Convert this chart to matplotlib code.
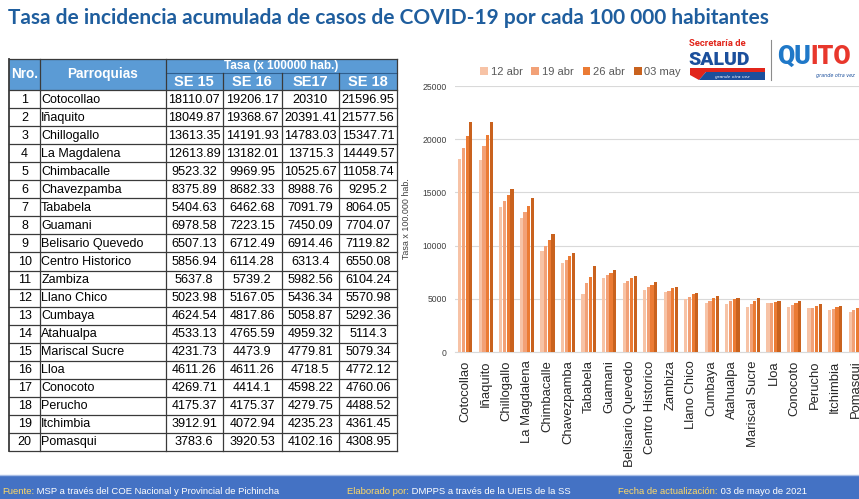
import matplotlib.pyplot as plt
import numpy as np
from matplotlib.patches import Rectangle, Polygon

# datos de la tabla / grafico
parroquias = ['Cotocollao', 'Iñaquito', 'Chillogallo', 'La Magdalena', 'Chimbacalle',
              'Chavezpamba', 'Tababela', 'Guamani', 'Belisario Quevedo', 'Centro Historico',
              'Zambiza', 'Llano Chico', 'Cumbaya', 'Atahualpa', 'Mariscal Sucre',
              'Lloa', 'Conocoto', 'Perucho', 'Itchimbia', 'Pomasqui']
se15 = [18110.07, 18049.87, 13613.35, 12613.89, 9523.32, 8375.89, 5404.63, 6978.58, 6507.13, 5856.94,
        5637.8, 5023.98, 4624.54, 4533.13, 4231.73, 4611.26, 4269.71, 4175.37, 3912.91, 3783.6]
se16 = [19206.17, 19368.67, 14191.93, 13182.01, 9969.95, 8682.33, 6462.68, 7223.15, 6712.49, 6114.28,
        5739.2, 5167.05, 4817.86, 4765.59, 4473.9, 4611.26, 4414.1, 4175.37, 4072.94, 3920.53]
se17 = [20310, 20391.41, 14783.03, 13715.3, 10525.67, 8988.76, 7091.79, 7450.09, 6914.46, 6313.4,
        5982.56, 5436.34, 5058.87, 4959.32, 4779.81, 4718.5, 4598.22, 4279.75, 4235.23, 4102.16]
se18 = [21596.95, 21577.56, 15347.71, 14449.57, 11058.74, 9295.2, 8064.05, 7704.07, 7119.82, 6550.08,
        6104.24, 5570.98, 5292.36, 5114.3, 5079.34, 4772.12, 4760.06, 4488.52, 4361.45, 4308.95]
semanas = ['SE 15', 'SE 16', 'SE17', 'SE 18']
fechas = ['12 abr', '19 abr', '26 abr', '03 may']
colores = ['#F7C3A6', '#F2A177', '#EB7B34', '#C9621E']

W, H = 859, 499
fig = plt.figure(figsize=(W / 100, H / 100), dpi=100)

# capa de fondo en pixeles
bg = fig.add_axes([0, 0, 1, 1])
bg.set_xlim(0, W)
bg.set_ylim(H, 0)
bg.axis('off')

bg.text(8, 18, 'Tasa de incidencia acumulada de casos de COVID-19 por cada 100 000 habitantes',
        fontsize=15, fontweight='bold', color='#1F5E9E', family=['Lato', 'DejaVu Sans'],
        va='center', ha='left')

# ---- tabla ----
cols = [9.3, 40, 165.7, 222.7, 281.7, 339, 397.3]
y_top, y_mid, y_head = 58.5, 72.5, 90
row_h = 18.05
n = len(parroquias)
y_end = y_head + n * row_h
line_c = '#3a3a3a'
head_c = '#5B9BD5'
tf = ['Liberation Sans', 'DejaVu Sans']

bg.add_patch(Rectangle((cols[0], y_top), cols[-1] - cols[0], y_head - y_top,
                       facecolor=head_c, edgecolor='none'))
bg.text((cols[0] + cols[1]) / 2, (y_top + y_head) / 2, 'Nro.', color='white', fontweight='bold',
        fontsize=9.8, ha='center', va='center', family=tf)
bg.text((cols[1] + cols[2]) / 2, (y_top + y_head) / 2, 'Parroquias', color='white', fontweight='bold',
        fontsize=9.8, ha='center', va='center', family=tf)
bg.text((cols[2] + cols[-1]) / 2, (y_top + y_mid) / 2 + 0.5, 'Tasa (x 100000 hab.)', color='white',
        fontweight='bold', fontsize=8.5, ha='center', va='center', family=tf)
for j, s in enumerate(semanas):
    bg.text((cols[2 + j] + cols[3 + j]) / 2, (y_mid + y_head) / 2 + 0.5, s, color='white',
            fontweight='bold', fontsize=10.5, ha='center', va='center', family=tf)

# lineas de la tabla
bg.plot([cols[2], cols[-1]], [y_mid, y_mid], color='#2f5f8f', lw=0.8)
bg.plot([cols[0], cols[-1]], [y_top, y_top], color=line_c, lw=0.9)
for x in cols:
    y0 = y_mid if x in cols[3:-1] else y_top
    bg.plot([x, x], [y0, y_end], color=line_c, lw=0.9 if x != cols[0] else 1.3)
for i in range(n + 1):
    y = y_head + i * row_h
    bg.plot([cols[0], cols[-1]], [y, y], color=line_c, lw=0.9)


def fmt(v):
    return f'{v:.2f}'.rstrip('0').rstrip('.')


for i in range(n):
    yc = y_head + (i + 0.5) * row_h + 0.5
    bg.text((cols[0] + cols[1]) / 2, yc, str(i + 1), fontsize=9, ha='center', va='center', family=tf)
    bg.text(cols[1] + 1.2, yc, parroquias[i], fontsize=9, ha='left', va='center', family=tf)
    for j, serie in enumerate([se15, se16, se17, se18]):
        bg.text((cols[2 + j] + cols[3 + j]) / 2, yc, fmt(serie[i]), fontsize=9.1,
                ha='center', va='center', family=tf)

# ---- pie ----
bg.add_patch(Rectangle((0, 475), W, 24, facecolor='#4472C4', edgecolor='none'))
bg.plot([0, W], [474.5, 474.5], color='#A9BEE6', lw=1)
ff = ['Liberation Sans Narrow', 'Liberation Sans', 'DejaVu Sans']
pie = [(2, 'Fuente:', ' MSP a través del COE Nacional y Provincial de Pichincha'),
       (347, 'Elaborado por:', ' DMPPS a través de la UIEIS de la SS'),
       (618, 'Fecha de actualización:', ' 03 de mayo de 2021')]
for x, lab, txt in pie:
    t = bg.text(x, 491, lab, color='#FFD966', fontsize=6.8, va='center', ha='left', family=ff)
    bg.annotate(txt, xy=(1, 0.5), xycoords=t, color='white', fontsize=6.8, va='center',
                ha='left', family=ff)

# ---- logos ----
lf = ['Roboto', 'DejaVu Sans']
bg.text(689, 43.5, 'Secretaría de', color='#E1251B', fontsize=6.8, fontweight='bold',
        ha='left', va='center', family=lf)
bg.text(688, 60, 'SALUD', color='#1B4F9C', fontsize=14, fontweight='heavy',
        ha='left', va='center', family=lf)
bg.add_patch(Polygon([[690, 68], [765, 68], [765, 72], [706, 72], [699, 80], [690, 75]],
                     closed=True, facecolor='#E1251B', edgecolor='none'))
bg.add_patch(Polygon([[706, 72], [765, 72], [765, 80], [699, 80]], closed=True,
                     facecolor='#1B4F9C', edgecolor='none'))
bg.text(732, 76.5, 'grande otra vez', color='white', fontsize=3.2, style='italic',
        ha='center', va='center')
bg.plot([771, 771], [40, 80], color='#8c8c8c', lw=0.8)
t = bg.text(777, 57, 'QU', color='#1F78C8', fontsize=18, fontweight='heavy', ha='left',
            va='center', family=lf)
bg.annotate('ITO', xy=(1, 0.5), xycoords=t, color='#E8372C', fontsize=18, fontweight='heavy',
            ha='left', va='center', family=lf)
bg.text(835, 75, 'grande otra vez', color='#1B4F9C', fontsize=3.5, style='italic',
        ha='center', va='center')

# ---- grafico de barras ----
ax = fig.add_axes([455 / W, (H - 352) / H, 411 / W, 266 / H])
x = np.arange(n)
offs = [-0.27, -0.09, 0.09, 0.27]
for k, serie in enumerate([se15, se16, se17, se18]):
    ax.bar(x + offs[k], serie, width=0.155, color=colores[k], label=fechas[k], zorder=3)
ax.set_xlim(-0.5, n - 0.5)
ax.set_ylim(0, 25000)
ax.set_yticks(np.arange(0, 25001, 5000))
ax.yaxis.grid(True, color='#D9D9D9', lw=0.8, zorder=0)
for s in ['top', 'right', 'left']:
    ax.spines[s].set_visible(False)
ax.spines['bottom'].set_color('#D9D9D9')
ax.tick_params(axis='y', length=0, labelsize=6.2, labelcolor='#404040', pad=6)
ax.tick_params(axis='x', length=0, pad=6)
ax.set_xticks(x)
ax.set_xticklabels(parroquias, rotation=90, fontsize=9.4, family=tf, color='#262626')
for lab in ax.get_yticklabels():
    lab.set_family(tf)
ax.set_ylabel('Tasa x 100.000 hab.', fontsize=6.4, color='#404040', family=tf, labelpad=8)

fig.legend(loc='center left', bbox_to_anchor=(470 / W, 1 - 72 / H), ncol=4, frameon=False,
           handlelength=0.7, handleheight=0.7, handletextpad=0.25,
           columnspacing=0.8, labelcolor='#595959', prop={'family': tf, 'size': 8})

fig.savefig('out.png', dpi=100)
